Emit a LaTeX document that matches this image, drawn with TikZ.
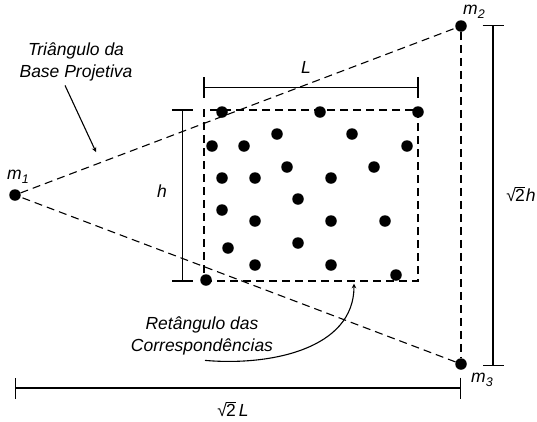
\documentclass[tikz,border=0pt]{standalone}
\usepackage{fontspec}
\setmainfont{Liberation Sans}
\usetikzlibrary{arrows,arrows.meta,positioning}

\newcommand{\msub}[1]{\textit{m}\raisebox{-4pt}{\fontsize{12.5}{12.5}\selectfont\itshape #1}}
\newcommand{\rtwo}{\textup{√}\kern-1pt$\overline{\hbox{\upshape 2}}$}

\begin{document}
\begin{tikzpicture}[x=1pt, y=-1pt, font=\fontsize{17.5}{22}\selectfont\itshape]
    % Define styles
    \tikzstyle{dot} = [circle, fill=black, inner sep=0pt, minimum size=11.5pt]
    \tikzstyle{proj} = [dash pattern=on 8pt off 5pt, line width=1.1pt]
    \tikzstyle{dim} = [line width=1.1pt, {Bar[width=21pt]}-{Bar[width=21pt]}]
    \tikzstyle{arrow} = [line width=1.1pt,->,>=stealth]
    \tikzstyle{note} = [align=center, inner sep=0pt]

    \useasboundingbox (0,0) rectangle (537,421);

    % Projective base
    \node [dot] (m1) at (15,195) {};
    \node [dot] (m2) at (461,26) {};
    \node [dot] (m3) at (461,364) {};
    \draw [proj] (m1) -- (m2);
    \draw [proj] (m2) -- (m3);
    \draw [proj] (m3) -- (m1);
    \node (m1txt) at (18,177) {\msub{1}};
    \node (m2txt) at (474,12) {\msub{2}};
    \node (m3txt) at (482,380) {\msub{3}};

    % Correspondences
    \node [draw, proj, minimum width=214pt, minimum height=171pt, inner sep=0pt] (rect) at (311,195.5) {};
    \foreach \x/\y [count=\i] in {222/112, 320/112, 418/112, 277/134, 352/134, 212/146,
        244/146, 407/146, 287/167, 374/167, 222/178, 255/178, 331/178, 298/199, 222/210,
        255/221, 331/221, 385/221, 298/243, 228/248, 255/265, 331/265, 396/275, 206/280}
        \node [dot] (p\i) at (\x,\y) {};

    % Dimensions
    \draw [dim] ([yshift=22pt]rect.north west) -- ([yshift=22pt]rect.north east);
    \draw [dim] ([xshift=-21pt]rect.north west) -- ([xshift=-21pt]rect.south west);
    \draw [dim] ([xshift=32pt,yshift=1pt]m2.center) -- ([xshift=32pt,yshift=-2pt]m3.center);
    \coordinate (base) at (0,388);
    \draw [dim] (m1 |- base) -- (m3 |- base);
    \node (Ltxt) at (306,67) {L};
    \node (htxt) at (162,191) {h};
    \node (rhtxt) at (521,194) {\rtwo\kern1pt h};
    \node (rLtxt) at (233,409) {\rtwo\kern3pt L};

    % Notes
    \node [note] (tri) at (76,62) {Triângulo da\\Base Projetiva};
    \coordinate (tritip) at (96,152);
    \draw [arrow] ([xshift=-11pt,yshift=-4pt]tri.south) -- (tritip);
    \node [note] (ret) at (202,336) {Retângulo das\\Correspondências};
    \draw [arrow] ([shift={(3pt,-5pt)}]ret.south) to[out=-5, in=-90] ([xshift=43pt,yshift=-2pt]rect.south);
\end{tikzpicture}
\end{document}
